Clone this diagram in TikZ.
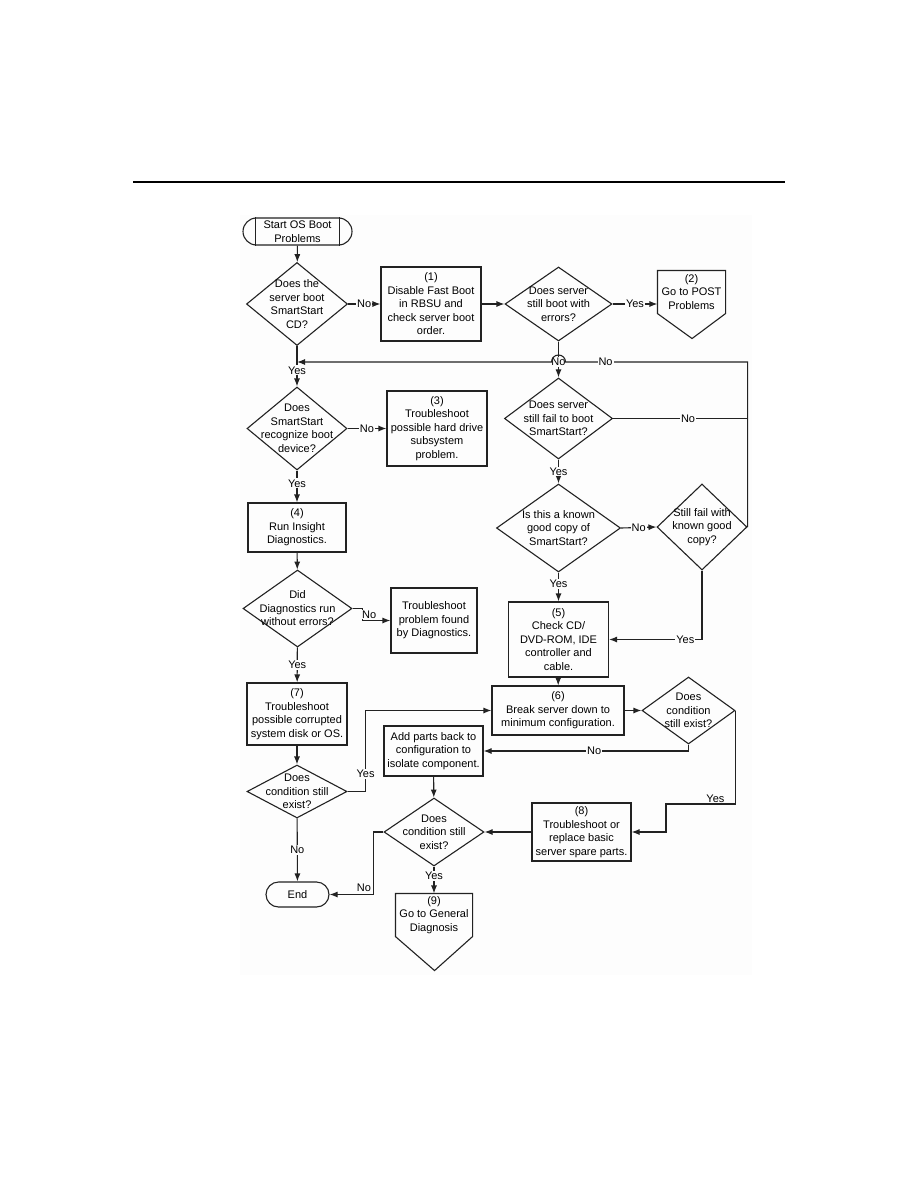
\documentclass[tikz,border=0pt]{standalone}
\usepackage{fontspec}
\setmainfont{Liberation Sans}
\usetikzlibrary{shapes.geometric,arrows.meta}
\definecolor{panel}{HTML}{FDFDFD}
\definecolor{ink}{HTML}{222222}

\tikzset{
  line/.style={draw=ink, line width=1.1pt},
  box/.style={draw=ink, line width=1.1pt, rectangle, align=center, inner sep=0pt,
    font=\fontsize{11}{13.5}\selectfont},
  term/.style={box},
  dec/.style={draw=ink, line width=1.1pt, diamond, inner sep=0pt},
  dtxt/.style={align=center, inner sep=0pt, font=\fontsize{11}{13.5}\selectfont},
  lbl/.style={fill=panel, inner sep=1pt, font=\fontsize{11}{13}\selectfont},
  ylbl/.style={anchor=south, inner sep=1pt, font=\fontsize{11}{13}\selectfont},
}

\begin{document}
\begin{tikzpicture}[x=1pt,y=-1pt,>={Latex[length=8pt,width=6pt]}]
\useasboundingbox (0,0) rectangle (918,1188);
\fill[panel] (240,215) rectangle (752,975);
\draw[line width=2.5pt] (133,182) -- (785,182);

% left column
\node[term, rounded corners=13.5pt, minimum width=109, minimum height=27] (start) at (297.5,231.5) {Start OS Boot\\Problems};
\draw[line] ([xshift=13pt]start.north west) -- ([xshift=13pt]start.south west);
\draw[line] ([xshift=-13pt]start.north east) -- ([xshift=-13pt]start.south east);
\node[dec, minimum width=101, minimum height=83, label={[dtxt]center:Does the\\server boot\\SmartStart\\CD?}] (d1) at (297,304) {};
\node[dec, minimum width=100, minimum height=83, label={[dtxt]center:Does\\SmartStart\\recognize boot\\device?}] (d4) at (297,428.5) {};
\node[box, minimum width=98, minimum height=49] (b4) at (297,527.5) {(4)\\Run Insight\\Diagnostics.};
\node[dec, minimum width=109, minimum height=77, label={[dtxt]center:Did\\Diagnostics run\\without errors?}] (d7) at (297.5,608.5) {};
\node[box, minimum width=100, minimum height=62] (b7) at (297,714) {(7)\\Troubleshoot\\possible corrupted\\system disk or OS.};
\node[dec, minimum width=100, minimum height=53, label={[dtxt]center:Does\\condition still\\exist?}] (d8) at (297,791.5) {};
\node[term, rounded corners=12.5pt, minimum width=63, minimum height=25] (end) at (297.5,894.5) {End};

% middle column
\node[box, minimum width=100, minimum height=74] (b1) at (431,304) {(1)\\Disable Fast Boot\\in RBSU and\\check server boot\\order.};
\node[box, minimum width=100, minimum height=75] (b3) at (437,428.5) {(3)\\Troubleshoot\\possible hard drive\\subsystem\\problem.};
\node[box, minimum width=86, minimum height=65] (b7n) at (434,620.5) {Troubleshoot\\problem found\\by Diagnostics.};
\node[box, minimum width=99, minimum height=50] (addp) at (433.5,751) {Add parts back to\\configuration to\\isolate component.};
\node[dec, minimum width=100, minimum height=68, label={[dtxt]center:Does\\condition still\\exist?}] (d10) at (434,832) {};
\node[box, draw=none, minimum width=76, minimum height=42] (p9) at (434,915) {(9)\\Go to General\\Diagnosis};
\draw[line] (p9.north west) -- (p9.north east) -- (p9.south east) -- ++(-38,34) -- (p9.south west) -- cycle;

% right columns
\node[dec, minimum width=107, minimum height=74, label={[dtxt]center:Does server\\still boot with\\errors?}] (d2) at (558.5,304) {};
\node[box, draw=none, minimum width=67, minimum height=42] (p2) at (691.5,292) {(2)\\Go to POST\\Problems};
\draw[line] (p2.north west) -- (p2.north east) -- (p2.south east) -- ++(-33.5,25) -- (p2.south west) -- cycle;
\node[dec, minimum width=108, minimum height=81, label={[dtxt]center:Does server\\still fail to boot\\SmartStart?}] (d3) at (558.5,418.5) {};
\node[dec, minimum width=124, minimum height=88, label={[dtxt]center:Is this a known\\good copy of\\SmartStart?}] (d5) at (558.5,528) {};
\node[dec, minimum width=90, minimum height=86, label={[dtxt]center:Still fail with\\known good\\copy?}] (d6) at (702,527) {};
\node[box, minimum width=100, minimum height=75] (b5) at (558.5,639.5) {(5)\\Check CD/\\DVD-ROM, IDE\\controller and\\cable.};
\node[box, minimum width=132, minimum height=49] (b6) at (558,710.5) {(6)\\Break server down to\\minimum configuration.};
\node[dec, minimum width=93, minimum height=67, label={[dtxt]center:Does\\condition\\still exist?}] (d9) at (688.5,710.5) {};
\node[box, minimum width=99, minimum height=58] (b8) at (581.5,832) {(8)\\Troubleshoot or\\replace basic\\server spare parts.};

\coordinate (rt) at (747,362);
\coordinate (lt) at (297,362);
\coordinate (hop) at (565.5,362);
\coordinate (jog) at (666,804);

% connectors
\draw[line,->] (start) -- (d1);
\draw[line,->] (d1.east) -- node[lbl]{No} (d1.east -| b1.west);
\draw[line,->] (b1.east) -- (b1.east -| d2.west);
\draw[line,->] (d2.east) -- node[lbl]{Yes} (d2.east -| p2.west);
\draw[line,->] (d2) -- node[lbl,pos=0.57]{No} (d3);
\draw[line,->] (d1) -- node[lbl,pos=0.6]{Yes} (d4);
\draw[line] (d3.east) -- node[lbl,pos=0.56]{No} (d3.east -| rt);
\draw[line,->] (d6.east) -- (d6.east |- rt) -- node[lbl,pos=0.78]{No} (hop)
  arc[start angle=0,end angle=180,radius=7pt] -- (lt);
\draw[line,->] (d3) -- node[lbl]{Yes} (d5);
\draw[line,->] (d5.east) -- node[lbl]{No} (d6.west);
\draw[line,->] (d6.south) |- node[lbl,pos=0.59]{Yes} (b5.east);
\draw[line,->] (d5) -- node[lbl,pos=0.4]{Yes} (b5);
\draw[line,->] (b5) -- (b6);
\draw[line,->] (b6) -- (d9);
\draw[line,->] (d9.south) |- node[lbl,pos=0.73]{No} (addp.east);
\draw[line,->] (d9.east) |- node[ylbl,pos=0.645]{Yes} (jog) |- (b8.east);
\draw[line,->] (b8) -- (d10);
\draw[line,->] (addp) -- (d10);
\draw[line,->] (d10) -- node[lbl,pos=0.35]{Yes} (p9);
\draw[line,->] (d10.west) -- ++(-10,0) |- node[pos=0.5,anchor=south east,inner sep=2pt,font=\fontsize{11}{13}\selectfont]{No} (end.east);
\draw[line,->] (d4.east) -- node[lbl]{No} (b3.west);
\draw[line,->] (d4) -- node[lbl,pos=0.4]{Yes} (b4);
\draw[line,->] (b4) -- (d7);
\draw[line,->] (d7.east) -- ++(10,0) |- node[lbl,pos=0.62,yshift=6pt]{No} (b7n.west);
\draw[line,->] (d7) -- node[lbl]{Yes} (b7);
\draw[line,->] (b7) -- (d8);
\draw[line,->] (d8.east) -- ++(18,0) |- node[lbl,pos=0.11]{Yes} (b6.west);
\draw[line,->] (d8) -- node[lbl]{No} (end);
\end{tikzpicture}
\end{document}
